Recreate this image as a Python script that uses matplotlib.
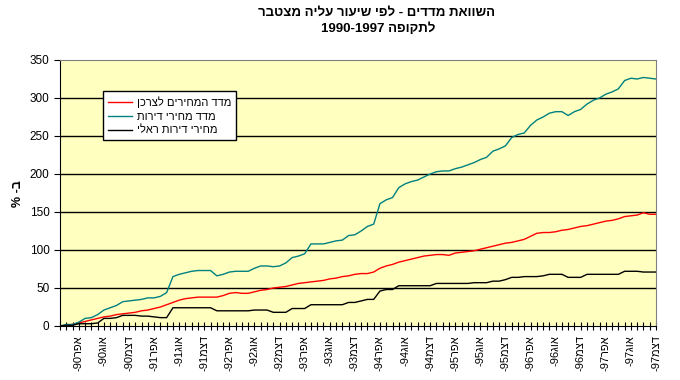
import numpy as np
import matplotlib
matplotlib.use("Agg")
import matplotlib.pyplot as plt

plt.rcParams['font.family'] = ['Liberation Sans', 'DejaVu Sans']

# monthly values Jan-1990 .. Dec-1997, cumulative growth in %
housing = [0, 2, 2, 5, 10, 11, 15, 21, 24, 27, 32, 33,
           34, 35, 37, 37, 39, 44, 65, 68, 70, 72, 73, 73,
           73, 66, 68, 71, 72, 72, 72, 76, 79, 79, 78, 79,
           83, 90, 92, 95, 108, 108, 108, 110, 112, 113, 119, 120,
           125, 131, 134, 161, 166, 169, 182, 187, 190, 192, 196, 200,
           203, 204, 204, 207, 209, 212, 215, 219, 222, 230, 233, 237,
           248, 252, 254, 264, 271, 275, 280, 282, 282, 277, 282, 285,
           292, 297, 300, 305, 308, 312, 323, 326, 325, 327, 326, 325]
cpi = [0, 1, 2, 4, 6, 8, 10, 12, 13, 15, 16, 17,
       18, 20, 21, 23, 25, 28, 31, 34, 36, 37, 38, 38,
       38, 38, 40, 43, 44, 43, 43, 45, 47, 48, 50, 51,
       52, 54, 56, 57, 58, 59, 60, 62, 63, 65, 66, 68,
       69, 69, 71, 76, 79, 81, 84, 86, 88, 90, 92, 93,
       94, 94, 93, 96, 97, 98, 99, 101, 103, 105, 107, 109,
       110, 112, 114, 118, 122, 123, 123, 124, 126, 127, 129, 131,
       132, 134, 136, 138, 139, 141, 144, 145, 146, 149, 147, 147]
real = [0, 1, 1, 3, 3, 3, 4, 10, 10, 11, 14, 14,
        14, 13, 13, 12, 11, 11, 24, 24, 24, 24, 24, 24,
        24, 20, 20, 20, 20, 20, 20, 21, 21, 21, 18, 18,
        18, 23, 23, 23, 28, 28, 28, 28, 28, 28, 31, 31,
        33, 35, 35, 46, 48, 48, 53, 53, 53, 53, 53, 53,
        56, 56, 56, 56, 56, 56, 57, 57, 57, 59, 59, 61,
        64, 64, 65, 65, 65, 66, 68, 68, 68, 64, 64, 64,
        68, 68, 68, 68, 68, 68, 72, 72, 72, 71, 71, 71]

months = ['אפר', 'אוג', 'דצמ']
years = ['90', '91', '92', '93', '94', '95', '96', '97']
legend_labels = ['מדד המחירים לצרכן', 'מדד מחירי דירות', 'מחירי דירות ראלי']
title1 = 'השוואת מדדים - לפי שיעור עליה מצטבר'


def vis(s):
    # matplotlib has no bidi: hand it the visual order
    return s[::-1]


tick_labels = ['-' + y + vis(m) for y in years for m in months]
tick_pos = np.arange(3, 96, 4)
x = np.arange(len(housing))

fig = plt.figure(figsize=(6.8, 3.8), dpi=100)
ax = fig.add_axes([60/680, 1-326/380, 596/680, 266/380])
ax.set_facecolor('#FFFFC0')

l_cpi, = ax.plot(x, cpi, color='#FF0000', lw=1)
l_house, = ax.plot(x, housing, color='#008080', lw=1)
l_real, = ax.plot(x, real, color='black', lw=1)

ax.set_xlim(0, 95)
ax.set_ylim(0, 350)
ax.set_yticks(np.arange(0, 351, 50))
for v in range(50, 350, 50):
    ax.axhline(v, color='black', lw=1, zorder=1)

ax.set_xticks(tick_pos)
ax.set_xticklabels(tick_labels, rotation=90, fontsize=8)
ax.set_xticks(x, minor=True)
ax.tick_params(axis='x', which='both', direction='inout', length=6, width=0.8)
ax.tick_params(axis='y', direction='out', length=4, labelsize=8.5)

ax.spines['top'].set_color('#808080')
ax.spines['right'].set_color('#808080')

leg = ax.legend([l_cpi, l_house, l_real], [vis(s) for s in legend_labels],
                loc='upper left', bbox_to_anchor=(0.072, 0.883),
                borderaxespad=0, fontsize=8, frameon=True, fancybox=False,
                framealpha=1, edgecolor='black', handlelength=2.2,
                borderpad=0.45, labelspacing=0.35, handletextpad=0.4)
leg.get_frame().set_linewidth(1)

fig.text(376/680, 1-13/380, vis(title1), ha='center', va='center',
         fontsize=9.5, fontweight='bold')
fig.text(378/680, 1-29/380, '1990-1997 ' + vis('לתקופה'), ha='center',
         va='center', fontsize=9.5, fontweight='bold')
fig.text(18/680, 1-194/380, '% -ב', rotation=90, ha='center', va='center',
         fontsize=9, fontweight='bold')

fig.savefig('out.png', dpi=100)
